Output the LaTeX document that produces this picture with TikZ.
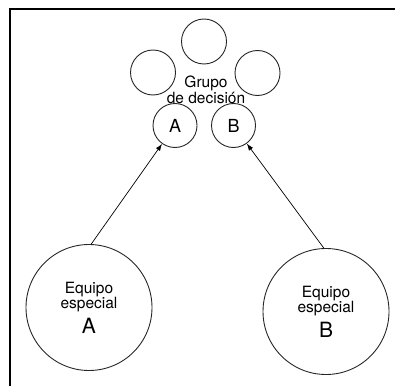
\documentclass[tikz,border=0pt]{standalone}
\usepackage{fontspec}
\setmainfont{TeX Gyre Heros}
\usepackage{tikz}
\usetikzlibrary{positioning,arrows.meta}
\tikzset{
  linkarrow/.style={-{Latex[length=7pt, width=5pt]}, line width=0.7pt},
  membernode/.style={draw, circle, line width=0.9pt, black!85, text=black, minimum size=45pt, inner sep=0pt},
  seatnode/.style={membernode, minimum size=44pt, font=\fontsize{18}{18}\selectfont},
  teamnode/.style={draw, circle, line width=0.9pt, black!85, text=black, minimum size=126pt, inner sep=0pt, align=center, font=\fontsize{15.5}{15.5}\selectfont},
  grouplabel/.style={align=center, inner sep=0pt, font=\fontsize{15.5}{14.5}\selectfont}
}

\begin{document}
\begin{tikzpicture}[x=1pt, y=-1pt]
  \useasboundingbox (0,0) rectangle (395,385);
  \draw[line width=2pt] (10,390) -- (10,9) -- (400,9);

  % decision group
  \node[membernode] (top) at (204,41.5) {};
  \node[membernode] (left) at (153,72.5) {};
  \node[membernode] (right) at (257.5,73) {};
  \node[seatnode] (seatA) at (175,125.5) {A};
  \node[seatnode] (seatB) at (233.5,125.5) {B};
  \node[grouplabel] (group) at (206,90) {Grupo\\de decisión};

  % special teams
  \node[teamnode] (teamA) at (89,307.5) {Equipo\\especial\\[5pt]{\fontsize{21}{21}\selectfont A}};
  \node[teamnode] (teamB) at (326,311.5) {Equipo\\especial\\[5pt]{\fontsize{21}{21}\selectfont B}};

  \draw[linkarrow] (teamA.88) -- (seatA);
  \draw[linkarrow] (teamB.92) -- (seatB);
\end{tikzpicture}
\end{document}
